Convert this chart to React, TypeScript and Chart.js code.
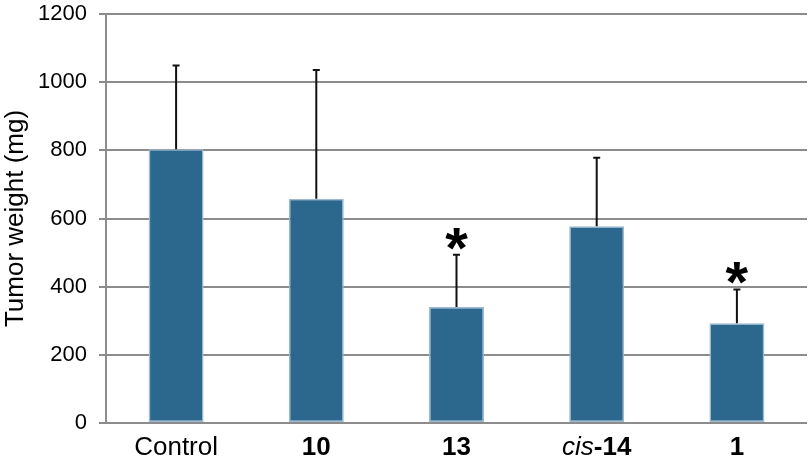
import React, { useEffect, useRef } from "react";
import { Chart, registerables } from "chart.js";

Chart.register(...registerables);

const categories = ["Control", "10", "13", "cis-14", "1"];
const meanWeight = [803, 658, 340, 577, 293];
const upperError = [246, 378, 154, 201, 99];
const significant = [false, false, true, false, true];
const yTicks = [0, 200, 400, 600, 800, 1000, 1200];

const FONT = "'Liberation Sans', Arial, Helvetica, sans-serif";

const errorBarPlugin = {
  id: "errorBars",
  afterDatasetsDraw(chart: any) {
    const ctx = chart.ctx;
    const meta = chart.getDatasetMeta(0);
    const y = chart.scales.y;
    ctx.save();
    meta.data.forEach((bar: any, i: number) => {
      const x = bar.x;
      const top = y.getPixelForValue(meanWeight[i]);
      const errTop = y.getPixelForValue(meanWeight[i] + upperError[i]);
      ctx.strokeStyle = "#111";
      ctx.lineWidth = 2;
      ctx.beginPath();
      ctx.moveTo(x, top);
      ctx.lineTo(x, errTop);
      ctx.moveTo(x - 3.5, errTop);
      ctx.lineTo(x + 3.5, errTop);
      ctx.stroke();
      if (significant[i]) {
        ctx.font = `bold 58px ${FONT}`;
        ctx.fillStyle = "#000";
        ctx.textAlign = "center";
        ctx.textBaseline = "alphabetic";
        const m = ctx.measureText("*");
        const desc = m.actualBoundingBoxDescent || -24;
        ctx.fillText("*", x, errTop - 5 - desc);
      }
    });
    ctx.restore();
  },
};

const xLabelPlugin = {
  id: "xLabels",
  afterDraw(chart: any) {
    const ctx = chart.ctx;
    const xs = chart.scales.x;
    const baseY = chart.chartArea.bottom + 32;
    ctx.save();
    ctx.fillStyle = "#000";
    ctx.textBaseline = "alphabetic";
    ctx.textAlign = "left";
    categories.forEach((c, i) => {
      const cx = xs.getPixelForValue(i);
      let parts: { t: string; f: string }[];
      if (c === "Control") parts = [{ t: c, f: `26px ${FONT}` }];
      else if (c.startsWith("cis-")) parts = [
        { t: "cis", f: `italic 26px ${FONT}` },
        { t: c.slice(3), f: `bold 26px ${FONT}` },
      ];
      else parts = [{ t: c, f: `bold 26px ${FONT}` }];
      let total = 0;
      const widths = parts.map((p) => {
        ctx.font = p.f;
        const w = ctx.measureText(p.t).width;
        total += w;
        return w;
      });
      let x = cx - total / 2;
      parts.forEach((p, k) => {
        ctx.font = p.f;
        ctx.fillText(p.t, x, baseY);
        x += widths[k];
      });
    });
    ctx.restore();
  },
};

export default function App() {
  const ref = useRef<HTMLCanvasElement | null>(null);
  useEffect(() => {
    if (!ref.current) return;
    const chart = new Chart(ref.current, {
      type: "bar",
      data: {
        labels: categories,
        datasets: [
          {
            data: meanWeight,
            backgroundColor: "#2c678d",
            borderColor: "#9bbad2",
            borderWidth: 1.5,
            borderSkipped: false,
            categoryPercentage: 1,
            barPercentage: 0.392,
          },
        ],
      },
      options: {
        animation: false,
        responsive: true,
        maintainAspectRatio: false,
        layout: { padding: { top: 14, right: 3, left: 0, bottom: 0 } },
        plugins: { legend: { display: false }, tooltip: { enabled: false } },
        scales: {
          x: {
            grid: { display: false },
            border: { display: false },
            ticks: { display: false },
            afterFit(scale: any) {
              scale.height = 38;
              scale.paddingLeft = 0;
              scale.paddingRight = 0;
            },
          },
          y: {
            min: 0,
            max: 1200,
            afterBuildTicks(scale: any) {
              scale.ticks = yTicks.map((v) => ({ value: v }));
            },
            grid: { color: "#8c8c8c", lineWidth: 2, tickLength: 7 },
            border: { display: true, color: "#8c8c8c", width: 2 },
            ticks: {
              color: "#000",
              font: { family: FONT, size: 22 },
              padding: 12,
              callback: (v: any) => String(v),
            },
            title: {
              display: true,
              text: "Tumor weight (mg)",
              color: "#000",
              font: { family: FONT, size: 26 },
              padding: { top: 0, bottom: 0 },
            },
            afterFit(scale: any) {
              scale.width = 106;
              scale.paddingTop = 0;
              scale.paddingBottom = 0;
            },
          },
        },
      },
      plugins: [errorBarPlugin, xLabelPlugin],
    });
    return () => chart.destroy();
  }, []);
  return (
    <div style={{ position: "fixed", left: 0, top: 0, width: 810, height: 461, background: "#fff" }}>
      <canvas ref={ref} />
    </div>
  );
}
